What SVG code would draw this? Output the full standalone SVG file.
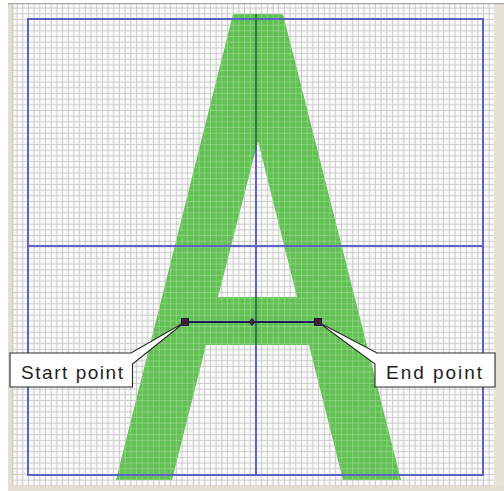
<svg xmlns="http://www.w3.org/2000/svg" width="504" height="491" viewBox="0 0 504 491">
  <style>
    .guide { stroke: #5c62c6; stroke-width: 2; fill: none; }
    .guide-on-green { stroke: #2f7a4c; stroke-width: 2; fill: none; }
    .callout { fill: #ffffff; stroke: #2a2a2a; stroke-width: 1.1; stroke-linejoin: miter; }
    .label { font-family: "Liberation Sans", Arial, sans-serif; font-size: 19px; fill: #1e1e1e; }
    .handle { fill: #4a1e2c; stroke: #1a1a50; stroke-width: 1; }
    .segment { stroke: #1c1c5c; stroke-width: 2; fill: none; }
  </style>
  <defs>
    <pattern id="gridGray" patternUnits="userSpaceOnUse" x="28" y="19" width="5.6875" height="5.6875">
      <rect width="5.6875" height="5.6875" fill="#f5f5f5"/>
      <rect x="1.6" y="1.6" width="2.6" height="2.6" fill="#ffffff"/>
      <path d="M0,0 V5.6875 M0,0 H5.6875" stroke="#c3c3c3" stroke-width="1.5"/>
    </pattern>
    <pattern id="gridGreen" patternUnits="userSpaceOnUse" x="28" y="19" width="5.6875" height="5.6875">
      <rect width="5.6875" height="5.6875" fill="#62c153"/>
      <path d="M0,0 V5.6875 M0,0 H5.6875" stroke="#93d488" stroke-width="1.5"/>
    </pattern>
    <clipPath id="clipA">
      <path d="M235,14 H281 Q283,14 283.5,16 L401,480 H343 L309,345 H206 L172,480 H116 L232.5,16 Q233,14 235,14 Z M258,141 L218,297 H297 Z" clip-rule="evenodd"/>
    </clipPath>
  </defs>

  <g id="background">
    <rect x="0" y="0" width="504" height="491" fill="#ffffff"/>
    <rect x="13" y="4" width="481" height="482" fill="url(#gridGray)"/>
    <rect x="8" y="3" width="5" height="488" fill="#e2ded2"/>
    <rect x="494" y="3" width="10" height="488" fill="#e6e2d6"/>
    <rect x="8" y="486" width="496" height="5" fill="#e2ded2"/>
    <rect x="8" y="3" width="496" height="1.2" fill="#a6a6a6"/>
    <rect x="12.5" y="4" width="0.8" height="482" fill="#bdb8aa"/>
  </g>

  <g id="letter-A">
    <path d="M235,14 H281 Q283,14 283.5,16 L401,480 H343 L309,345 H206 L172,480 H116 L232.5,16 Q233,14 235,14 Z M258,141 L218,297 H297 Z" fill="url(#gridGreen)" fill-rule="evenodd"/>
  </g>

  <g id="guides">
    <rect class="guide" x="28" y="19" width="455" height="456"/>
    <line class="guide" x1="256" y1="19" x2="256" y2="475"/>
    <line class="guide" x1="28" y1="246" x2="483" y2="246"/>
    <line class="guide-on-green" x1="256" y1="14" x2="256" y2="480" clip-path="url(#clipA)"/>
  </g>

  <g id="connectors">
    <line class="segment" x1="185" y1="322" x2="318" y2="322"/>
  </g>

  <g id="start-point">
    <rect class="handle" x="181.5" y="318.5" width="7" height="7"/>
  </g>
  <g id="mid-point">
    <path class="handle" d="M252,318.5 L255,322 L252,325.5 L249,322 Z"/>
  </g>
  <g id="end-point">
    <rect class="handle" x="314.5" y="318.5" width="7" height="7"/>
  </g>

  <g id="start-callout">
    <path class="callout" d="M10,353 H131 L185,322 L132.5,364 V387 H10 Z"/>
    <text class="label" x="21" y="379" textLength="102" lengthAdjust="spacing">Start point</text>
  </g>

  <g id="end-callout">
    <path class="callout" d="M495,353 V387 H375 V364 L318,322 L377,353 Z"/>
    <text class="label" x="386" y="379" textLength="96" lengthAdjust="spacing">End point</text>
  </g>
</svg>
